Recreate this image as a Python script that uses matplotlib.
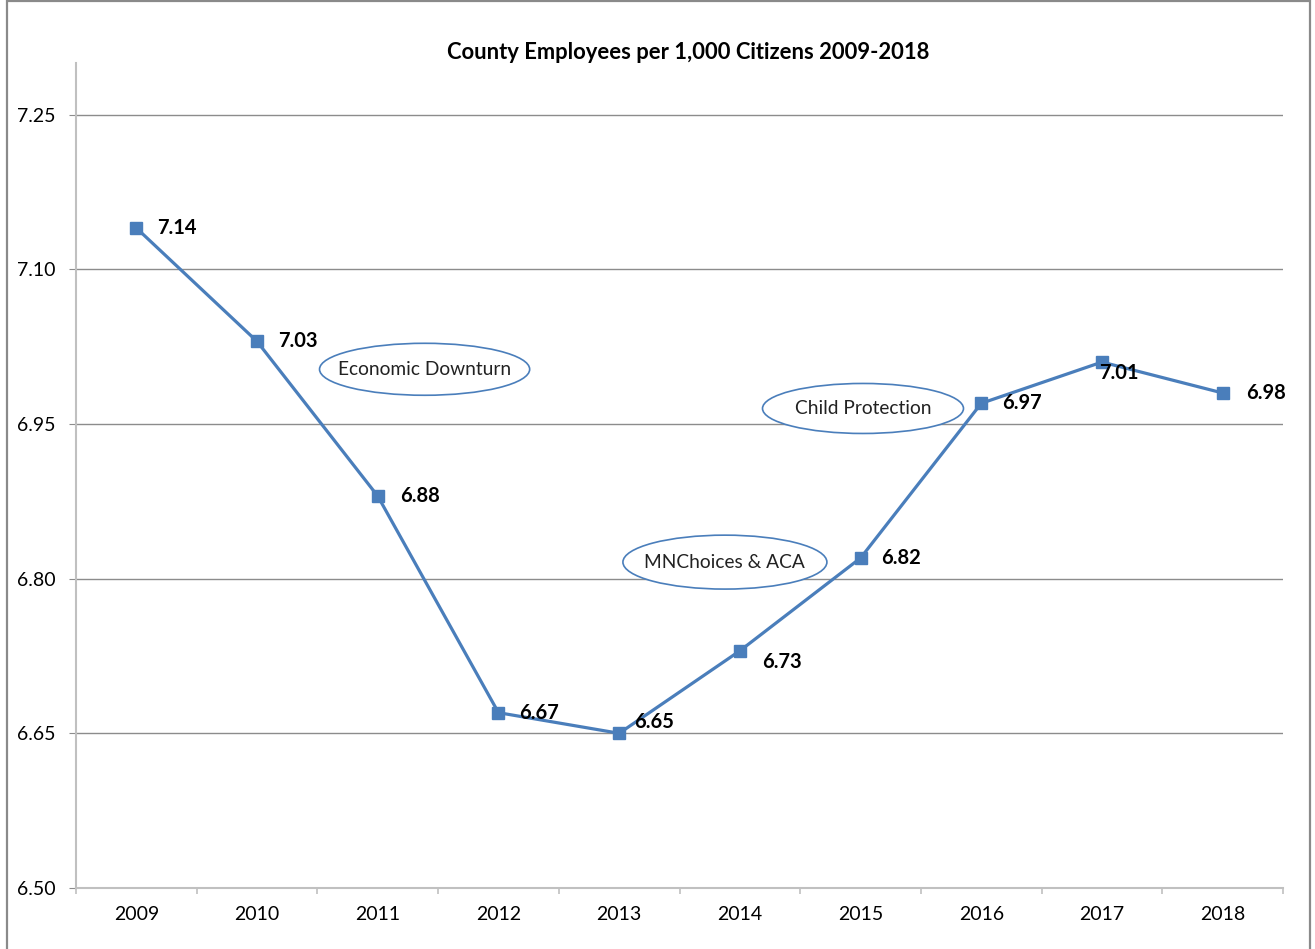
import matplotlib.pyplot as plt
from matplotlib.patches import Ellipse, Rectangle

years = ['2009', '2010', '2011', '2012', '2013', '2014', '2015', '2016', '2017', '2018']
employees = [7.14, 7.03, 6.88, 6.67, 6.65, 6.73, 6.82, 6.97, 7.01, 6.98]
yticks = [6.50, 6.65, 6.80, 6.95, 7.10, 7.25]
notes = ['Economic Downturn', 'MNChoices & ACA', 'Child Protection']

plt.rcParams['font.family'] = ['Lato', 'DejaVu Sans']

blue = '#4a7ebb'
fig = plt.figure(figsize=(13.15, 9.49), dpi=100)
ax = fig.add_axes([0.0578, 0.0643, 0.9179, 0.8693])

# outer chart border
fig.patches.append(Rectangle((0.0053, -0.05), 0.9909, 1.0487, transform=fig.transFigure,
                             fill=False, edgecolor='#8a8a8a', linewidth=1.6))

x = list(range(len(years)))
ax.plot(x, employees, color=blue, linewidth=2.3, marker='s', markersize=8.5,
        markerfacecolor=blue, markeredgecolor=blue, zorder=3)

# value labels, nudged around the line
offsets = [(15, 0), (15, 0), (16, 0), (15, 0), (11, 8), (16, -8), (15, 0), (15, 0), (-2, -8), (17, 0)]
for xi, v, off in zip(x, employees, offsets):
    ax.annotate(f'{v:.2f}', (xi, v), xytext=off, textcoords='offset points',
                ha='left', va='center', fontsize=14.5, fontweight='bold', zorder=4)

# event call-outs
spots = [(2.388, 7.003, 1.741, 0.0504), (4.876, 6.816, 1.69, 0.0523), (6.02, 6.965, 1.665, 0.0485)]
for text, (cx, cy, w, h) in zip(notes, spots):
    ax.add_patch(Ellipse((cx, cy), w, h, facecolor='white', edgecolor=blue, linewidth=1.2, zorder=2))
    ax.text(cx, cy, text, ha='center', va='center', fontsize=13.8, color='#222222', zorder=2.5)

ax.set_xlim(-0.5, 9.5)
ax.set_ylim(6.5, 7.30)
ax.set_yticks(yticks)
ax.set_yticklabels([f'{t:.2f}' for t in yticks])
ax.set_xticks(x)
ax.set_xticklabels(years)
ax.set_xticks([i - 0.5 for i in range(len(years) + 1)], minor=True)

ax.grid(axis='y', color='#8c8c8c', linewidth=1.0)
ax.set_axisbelow(True)
for side in ['top', 'right']:
    ax.spines[side].set_visible(False)
for side in ['left', 'bottom']:
    ax.spines[side].set_color('#c0c0c0')
    ax.spines[side].set_linewidth(1.5)

ax.tick_params(axis='y', length=5, color='#8c8c8c', pad=10, labelsize=14)
ax.tick_params(axis='x', which='major', length=0, pad=13, labelsize=14)
ax.tick_params(axis='x', which='minor', length=4, color='#c0c0c0', width=1.2)

fig.text(0.523, 0.945, 'County Employees per 1,000 Citizens 2009-2018', ha='center', va='center',
         fontsize=15.8, fontweight='bold')

fig.savefig('out.png', dpi=100)
